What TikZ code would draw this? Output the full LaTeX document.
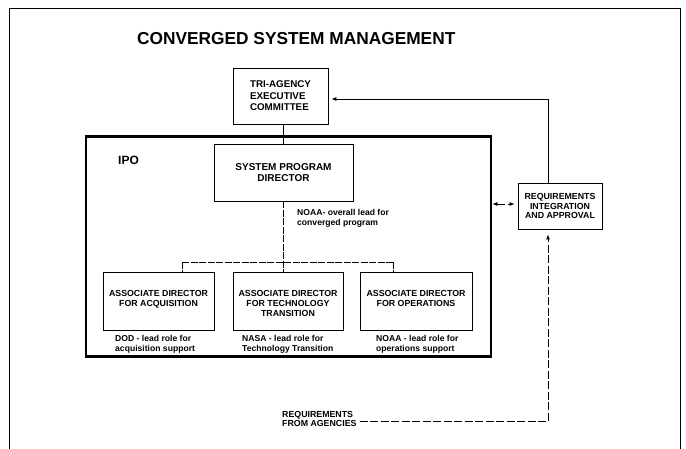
\documentclass[tikz,border=0pt]{standalone}
\usepackage{fontspec}
\setmainfont{Liberation Sans}
\usetikzlibrary{arrows.meta}
\newcommand\fTitle{\fontsize{17.3bp}{20bp}\selectfont\bfseries}
\newcommand\fBig{\fontsize{9.8bp}{11.5bp}\selectfont\bfseries}
\newcommand\fSpd{\fontsize{10bp}{11.5bp}\selectfont\bfseries}
\newcommand\fSmall{\fontsize{8.8bp}{10bp}\selectfont\bfseries}
\newcommand\fReq{\fontsize{8.8bp}{9.5bp}\selectfont\bfseries}
\newcommand\fNote{\fontsize{8.6bp}{9.2bp}\selectfont\bfseries}
\newcommand\fNoteA{\fontsize{8.6bp}{10bp}\selectfont\bfseries}
\newcommand\fIpo{\fontsize{12bp}{14bp}\selectfont\bfseries}
\begin{document}
\begin{tikzpicture}[x=1bp,y=-1bp,
  box/.style={draw, line width=0.8bp, inner sep=0pt, align=center},
  txt/.style={inner sep=0pt, align=left},
  conn/.style={line width=0.8bp},
  tline/.style={line width=0.8bp, dash pattern=on 7bp off 1.5bp},
  dline/.style={line width=0.8bp, dash pattern=on 8bp off 2.5bp},
  arr/.style={-{Latex[length=5bp,width=4bp]}},
  darr/.style={{Latex[length=5bp,width=4bp]}-{Latex[length=5bp,width=4bp]}},
]
\useasboundingbox (0,0) rectangle (686,449);
\draw[line width=0.8bp] (9,449) -- (9,8) -- (680,8) -- (680,449);
\node[txt, anchor=west, font=\fTitle] (title) at (137,39) {CONVERGED SYSTEM MANAGEMENT};
\node[box, font=\fBig, align=left, minimum width=95bp, minimum height=56bp] (tri) at (280.5,96) {TRI-AGENCY\\EXECUTIVE\\COMMITTEE};
\node[draw, line width=2.8bp, minimum width=405bp, minimum height=220bp, inner sep=0pt] (ipo) at (288.5,246.5) {};
\node[txt, anchor=west, font=\fIpo] (ipolabel) at (118,160) {IPO};
\node[box, font=\fSpd, minimum width=139bp, minimum height=57bp] (spd) at (283.5,172.5) {SYSTEM PROGRAM\\DIRECTOR};
\node[txt, anchor=north west, font=\fNoteA] (noaa) at (297,209.5) {NOAA- overall lead for\\converged program};
\node[box, minimum width=111bp, minimum height=58bp] (b1) at (158.5,301) {};
\node[box, minimum width=110bp, minimum height=58bp] (b2) at (288,301) {};
\node[box, minimum width=112bp, minimum height=58bp] (b3) at (416,301) {};
\node[txt, align=center, anchor=north, font=\fSmall] (b1t) at ([yshift=-18.8bp]b1.north) {ASSOCIATE DIRECTOR\\FOR ACQUISITION};
\node[txt, align=center, anchor=north, font=\fSmall] (b2t) at ([yshift=-18.8bp]b2.north) {ASSOCIATE DIRECTOR\\FOR TECHNOLOGY\\TRANSITION};
\node[txt, align=center, anchor=north, font=\fSmall] (b3t) at ([yshift=-18.8bp]b3.north) {ASSOCIATE DIRECTOR\\FOR OPERATIONS};
\node[txt, anchor=north west, font=\fNote] (n1) at (115,335.4) {DOD - lead role for\\acquisition support};
\node[txt, anchor=north west, font=\fNote] (n2) at (242,335.4) {NASA - lead role for\\Technology Transition};
\node[txt, anchor=north west, font=\fNote] (n3) at (376,335.4) {NOAA - lead role for\\operations support};
\node[box, font=\fReq, minimum width=84bp, minimum height=46bp] (req) at (560,206) {REQUIREMENTS\\INTEGRATION\\AND APPROVAL};
\node[txt, anchor=north west, font=\fReq] (reqag) at (282,411) {REQUIREMENTS\\FROM AGENCIES};
% connectors
\draw[conn] (spd.north) -- (spd.north |- tri.south);
\coordinate (d1) at (182,262);
\coordinate (d3) at (393,262);
\draw[tline] (spd.south) -- (spd.south |- b2.north);
\draw[tline] (d1) -- (d3);
\draw[tline] (d1) -- (d1 |- b1.north);
\draw[tline] (d3) -- (d3 |- b3.north);
\draw[conn, arr, shorten >=3bp] ([xshift=-12bp]req.north) |- ([yshift=-3bp]tri.east);
\coordinate (ra) at ([yshift=2bp]req.west);
\draw[dline, darr, shorten >=3bp] (ipo.east |- ra) -- (ra);
\coordinate (up) at ([xshift=-12bp,yshift=-5bp]req.south);
\draw[dline, arr] ([xshift=3bp,yshift=-2.2bp]reqag.east) -| (up);
\end{tikzpicture}
\end{document}
